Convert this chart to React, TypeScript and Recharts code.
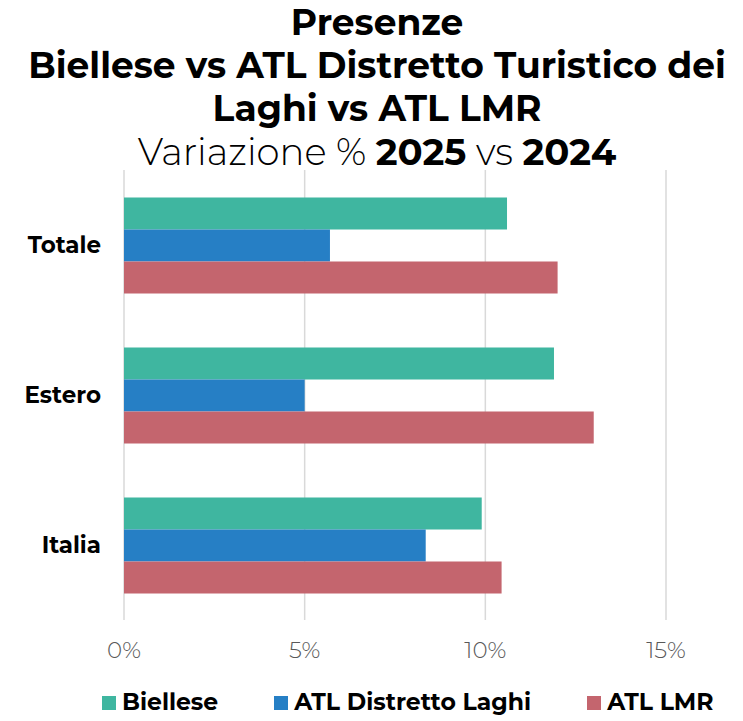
import React from "react";
import { BarChart, Bar, XAxis, YAxis, CartesianGrid } from "recharts";

const categories = ["Totale", "Estero", "Italia"];
const biellese = [10.6, 11.9, 9.9];
const atlDistrettoLaghi = [5.7, 5.0, 8.35];
const atlLmr = [12.0, 13.0, 10.45];
const xTicks = [0, 5, 10, 15];
const seriesNames = ["Biellese", "ATL Distretto Laghi", "ATL LMR"];
const seriesKeys = ["biellese", "distretto", "lmr"];
const seriesColors = ["#3fb6a0", "#267fc5", "#c4656e"];

const data = categories.map((c, i) => ({
  name: c,
  biellese: biellese[i],
  distretto: atlDistrettoLaghi[i],
  lmr: atlLmr[i],
}));

const FONT = "Montserrat, Inter, 'Noto Sans', sans-serif";

export default function App() {
  return (
    <div
      style={{
        position: "absolute",
        left: 0,
        top: 0,
        width: 743,
        height: 721,
        background: "#fff",
        fontFamily: FONT,
        overflow: "hidden",
      }}
    >
      <div
        style={{
          position: "absolute",
          left: 0,
          top: 1,
          width: 754,
          textAlign: "center",
          fontSize: 36,
          lineHeight: "43px",
          color: "#000",
        }}
      >
        <div style={{ fontWeight: 700 }}>Presenze</div>
        <div style={{ fontWeight: 700 }}>Biellese vs ATL Distretto Turistico dei</div>
        <div style={{ fontWeight: 700 }}>Laghi vs ATL LMR</div>
        <div style={{ fontWeight: 300, fontSize: 37 }}>
          Variazione % <span style={{ fontWeight: 700 }}>2025</span> vs{" "}
          <span style={{ fontWeight: 700 }}>2024</span>
        </div>
      </div>

      <div style={{ position: "absolute", left: 0, top: 0 }}>
        <BarChart
          width={743}
          height={721}
          data={data}
          layout="vertical"
          margin={{ top: 170, right: 77, bottom: 61, left: 0 }}
          barCategoryGap="18.3%"
          barGap={0}
        >
          <CartesianGrid horizontal={false} stroke="#d9d9d9" strokeWidth={1.5} />
          <XAxis
            type="number"
            domain={[0, 15]}
            ticks={xTicks}
            tickFormatter={(v: number) => `${v}%`}
            axisLine={false}
            tickLine={false}
            tickMargin={16}
            height={40}
            tick={{ fill: "#595959", fontSize: 23, fontWeight: 300, fontFamily: FONT }}
          />
          <YAxis
            type="category"
            dataKey="name"
            width={124}
            axisLine={false}
            tickLine={false}
            tickMargin={17}
            tick={{ fill: "#000", fontSize: 23, fontWeight: 700, fontFamily: FONT }}
          />
          {seriesKeys.map((k, i) => (
            <Bar key={k} dataKey={k} name={seriesNames[i]} fill={seriesColors[i]} isAnimationActive={false} />
          ))}
        </BarChart>
      </div>

      <div
        style={{
          position: "absolute",
          left: 102,
          top: 687,
          display: "flex",
          alignItems: "flex-start",
          gap: 56,
          fontSize: 23.5,
          lineHeight: "29px",
          fontWeight: 700,
          color: "#000",
          whiteSpace: "nowrap",
        }}
      >
        {seriesNames.map((n, i) => (
          <div key={n} style={{ display: "flex", alignItems: "flex-start", gap: 6 }}>
            <div style={{ width: 14, height: 14, marginTop: 9, background: seriesColors[i] }} />
            <span>{n}</span>
          </div>
        ))}
      </div>
    </div>
  );
}
